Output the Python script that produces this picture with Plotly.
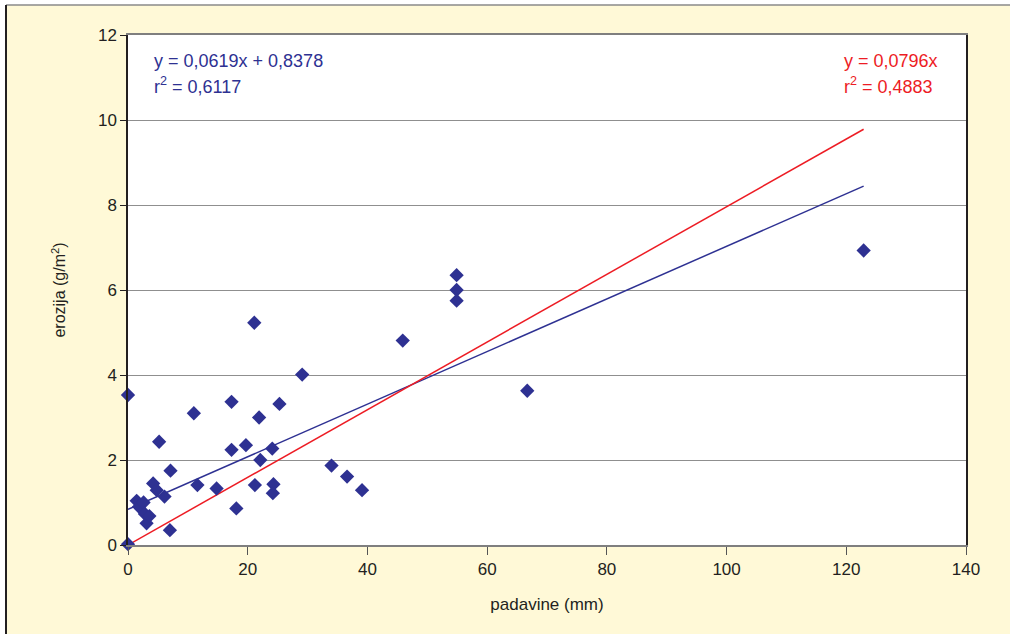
import plotly.graph_objects as go

# Data
padavine = [0, 0, 1.45, 1.84, 2.6, 2.84, 3.1, 3.57, 4.2, 4.8, 5.2, 6.1, 7.0, 7.1,
            11.0, 11.6, 14.8, 17.3, 17.3, 18.1, 19.7, 21.1, 21.2, 21.9, 22.1,
            24.1, 24.2, 24.3, 25.3, 29.1, 34.0, 36.6, 39.1, 45.9, 54.9, 54.9,
            54.9, 66.7, 122.9]
erozija = [3.53, 0.02, 1.04, 0.90, 1.0, 0.73, 0.51, 0.68, 1.45, 1.29, 2.43, 1.14,
           0.35, 1.75, 3.10, 1.41, 1.33, 3.37, 2.24, 0.86, 2.35, 5.23, 1.41, 3.00,
           2.0, 2.27, 1.22, 1.43, 3.32, 4.01, 1.87, 1.61, 1.29, 4.81, 6.35, 6.0,
           5.75, 3.63, 6.93]

# Trend line coefficients (from the chart's labels)
lin_slope, lin_intercept, lin_r2 = 0.0619, 0.8378, 0.6117
orig_slope, orig_r2 = 0.0796, 0.4883

x_ticks = [0, 20, 40, 60, 80, 100, 120, 140]
y_ticks = [0, 2, 4, 6, 8, 10, 12]

BLUE = "#2E3192"
RED = "#ED1C24"
TEXT = "#231F20"
CREAM = "#FFF9D7"

x_line = [0, max(padavine)]
fig = go.Figure()
fig.add_trace(go.Scatter(
    x=x_line, y=[lin_slope * v + lin_intercept for v in x_line],
    mode="lines", line=dict(color=BLUE, width=1.5), hoverinfo="skip", showlegend=False))
fig.add_trace(go.Scatter(
    x=x_line, y=[orig_slope * v for v in x_line],
    mode="lines", line=dict(color=RED, width=1.5), hoverinfo="skip", showlegend=False))
fig.add_trace(go.Scatter(
    x=padavine, y=erozija, mode="markers",
    marker=dict(symbol="diamond", size=11, color=BLUE, line=dict(width=0)),
    cliponaxis=False, showlegend=False))

def fmt(v):
    return f"{v:.4f}".replace(".", ",")

annotations = [
    dict(text=f"y = {fmt(lin_slope)}x + {fmt(lin_intercept)}", x=0.0286, y=0.949,
         font=dict(color=BLUE)),
    dict(text=f"r<sup>2</sup> = {fmt(lin_r2)}", x=0.0286, y=0.900, font=dict(color=BLUE)),
    dict(text=f"y = {fmt(orig_slope)}x", x=0.852, y=0.949, font=dict(color=RED)),
    dict(text=f"r<sup>2</sup> = {fmt(orig_r2)}", x=0.852, y=0.900, font=dict(color=RED)),
]
for a in annotations:
    a.update(xref="paper", yref="paper", xanchor="left", yanchor="middle",
             showarrow=False)
    a["font"].update(size=18, family="Liberation Sans, Arial, sans-serif")

W, H = 1010, 634
L, R, T, B = 128, 44, 35, 89
pw, ph = W - L - R, H - T - B
def px(xp):
    return (xp - L) / pw
def py(yp):
    return (H - B - yp) / ph

shapes = [
    dict(type="rect", xref="paper", yref="paper", x0=px(0), x1=px(W), y0=py(0), y1=py(5),
         fillcolor="white", line=dict(width=0), layer="above"),
    dict(type="rect", xref="paper", yref="paper", x0=px(0), x1=px(6), y0=py(0), y1=py(H),
         fillcolor="white", line=dict(width=0), layer="above"),
    dict(type="line", xref="paper", yref="paper", x0=px(6), x1=px(W), y0=py(5), y1=py(5),
         line=dict(color="#8a8a8a", width=1.5)),
    dict(type="line", xref="paper", yref="paper", x0=px(6), x1=px(6), y0=py(5), y1=py(H),
         line=dict(color="#231F20", width=2)),
]

fig.update_layout(
    width=W, height=H,
    margin=dict(l=L, r=R, t=T, b=B, pad=0),
    paper_bgcolor=CREAM, plot_bgcolor="white",
    font=dict(family="Liberation Sans, Arial, sans-serif", size=17, color=TEXT),
    annotations=annotations, shapes=shapes,
    xaxis=dict(range=[0, 140], tickvals=x_ticks, showgrid=False, zeroline=False,
               showline=True, linecolor="#7f7f7f", linewidth=1.5, mirror=True,
               ticks="outside", ticklen=8, tickcolor="#555555", tickwidth=1,
               title=dict(text="padavine (mm)", standoff=20, font=dict(size=17))),
    yaxis=dict(range=[0, 12], tickvals=y_ticks, showgrid=True, gridcolor="#8f8f8f",
               gridwidth=1, zeroline=False,
               showline=True, linecolor="#231F20", linewidth=1.5, mirror=True,
               ticks="outside", ticklen=6, tickcolor="#231F20", tickwidth=1,
               title=dict(text="erozija (g/m<sup>2</sup>)", standoff=28, font=dict(size=16))),
)

fig.write_html("out.html",
               config={"displayModeBar": False},
               post_script="document.body.style.margin='0';document.body.style.overflow='hidden';")
